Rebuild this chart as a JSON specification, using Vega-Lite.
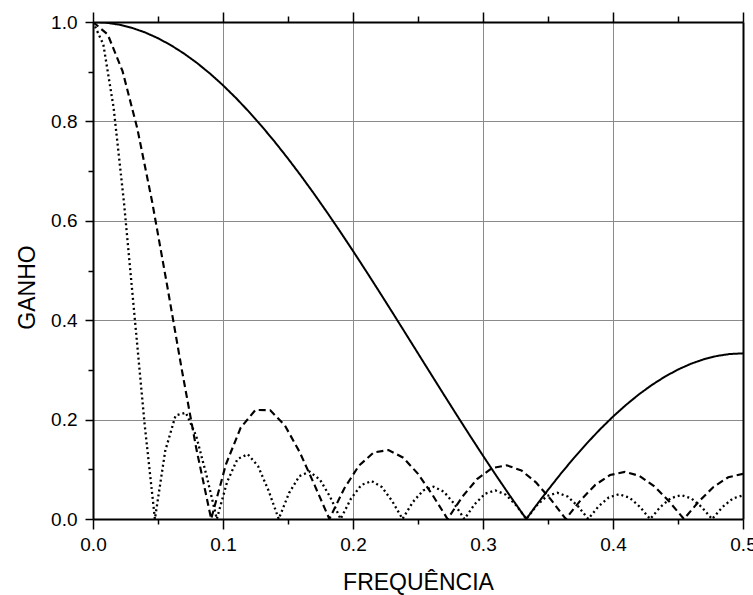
{
  "$schema": "https://vega.github.io/schema/vega-lite/v6.json",
  "width": 650,
  "height": 497,
  "autosize": "none",
  "padding": {"left": 93, "top": 22, "right": 10, "bottom": 76},
  "background": "white",
  "config": {
    "view": {"stroke": null},
    "font": "Liberation Sans",
    "axis": {
      "labelFont": "Liberation Sans",
      "titleFont": "Liberation Sans",
      "labelColor": "black",
      "titleColor": "black",
      "tickColor": "black",
      "domainColor": "black",
      "labelFontSize": 19,
      "titleFontSize": 23,
      "titleFontWeight": "normal",
      "gridColor": "#8a8a8a",
      "gridWidth": 1,
      "gridOpacity": 1,
      "tickWidth": 1.5,
      "domainWidth": 2,
      "labelFlush": false,
      "labelOverlap": false
    }
  },
  "datasets": {
    "gain": [
      {"f": 0, "g": 1, "s": "a"}, {"f": 0.01, "g": 0.99869, "s": "a"}, {"f": 0.02, "g": 0.99474, "s": "a"}, {"f": 0.03, "g": 0.98819, "s": "a"}, {"f": 0.04, "g": 0.97905, "s": "a"}, {"f": 0.05, "g": 0.96737, "s": "a"}, {"f": 0.06, "g": 0.95318, "s": "a"}, {"f": 0.07, "g": 0.93655, "s": "a"}, {"f": 0.08, "g": 0.91754, "s": "a"}, {"f": 0.09, "g": 0.89622, "s": "a"}, {"f": 0.1, "g": 0.87268, "s": "a"}, {"f": 0.11, "g": 0.84701, "s": "a"}, {"f": 0.12, "g": 0.81931, "s": "a"}, {"f": 0.13, "g": 0.7897, "s": "a"}, {"f": 0.14, "g": 0.75828, "s": "a"}, {"f": 0.15, "g": 0.72519, "s": "a"}, {"f": 0.16, "g": 0.69055, "s": "a"}, {"f": 0.17, "g": 0.6545, "s": "a"}, {"f": 0.18, "g": 0.61719, "s": "a"}, {"f": 0.19, "g": 0.57875, "s": "a"}, {"f": 0.2, "g": 0.53935, "s": "a"}, {"f": 0.21, "g": 0.49913, "s": "a"}, {"f": 0.22, "g": 0.45825, "s": "a"}, {"f": 0.23, "g": 0.41689, "s": "a"}, {"f": 0.24, "g": 0.37519, "s": "a"}, {"f": 0.25, "g": 0.33333, "s": "a"}, {"f": 0.26, "g": 0.29147, "s": "a"}, {"f": 0.27, "g": 0.24978, "s": "a"}, {"f": 0.28, "g": 0.20841, "s": "a"}, {"f": 0.29, "g": 0.16754, "s": "a"}, {"f": 0.3, "g": 0.12732, "s": "a"}, {"f": 0.31, "g": 0.08792, "s": "a"}, {"f": 0.32, "g": 0.04948, "s": "a"}, {"f": 0.33, "g": 0.01216, "s": "a"}, {"f": 0.33333, "g": 0, "s": "a"}, {"f": 0.34, "g": 0.02389, "s": "a"}, {"f": 0.35, "g": 0.05853, "s": "a"}, {"f": 0.36, "g": 0.09162, "s": "a"}, {"f": 0.37, "g": 0.12304, "s": "a"}, {"f": 0.38, "g": 0.15265, "s": "a"}, {"f": 0.39, "g": 0.18034, "s": "a"}, {"f": 0.4, "g": 0.20601, "s": "a"}, {"f": 0.41, "g": 0.22955, "s": "a"}, {"f": 0.42, "g": 0.25088, "s": "a"}, {"f": 0.43, "g": 0.26989, "s": "a"}, {"f": 0.44, "g": 0.28652, "s": "a"}, {"f": 0.45, "g": 0.30071, "s": "a"}, {"f": 0.46, "g": 0.31239, "s": "a"}, {"f": 0.47, "g": 0.32153, "s": "a"}, {"f": 0.48, "g": 0.32808, "s": "a"}, {"f": 0.49, "g": 0.33202, "s": "a"}, {"f": 0.5, "g": 0.33333, "s": "a"},
      {"f": 0, "g": 1, "s": "b"}, {"f": 0.01136, "g": 0.97471, "s": "b"}, {"f": 0.02273, "g": 0.90108, "s": "b"}, {"f": 0.03409, "g": 0.78571, "s": "b"}, {"f": 0.04545, "g": 0.63879, "s": "b"}, {"f": 0.05682, "g": 0.47303, "s": "b"}, {"f": 0.06818, "g": 0.30241, "s": "b"}, {"f": 0.07955, "g": 0.14067, "s": "b"}, {"f": 0.09091, "g": 0, "s": "b"}, {"f": 0.10227, "g": 0.11016, "s": "b"}, {"f": 0.11364, "g": 0.18395, "s": "b"}, {"f": 0.125, "g": 0.21947, "s": "b"}, {"f": 0.13636, "g": 0.21884, "s": "b"}, {"f": 0.14773, "g": 0.18762, "s": "b"}, {"f": 0.15909, "g": 0.13413, "s": "b"}, {"f": 0.17045, "g": 0.06817, "s": "b"}, {"f": 0.18182, "g": 0, "s": "b"}, {"f": 0.19318, "g": 0.061, "s": "b"}, {"f": 0.20455, "g": 0.10727, "s": "b"}, {"f": 0.21591, "g": 0.13386, "s": "b"}, {"f": 0.22727, "g": 0.13882, "s": "b"}, {"f": 0.23864, "g": 0.12326, "s": "b"}, {"f": 0.25, "g": 0.09091, "s": "b"}, {"f": 0.26136, "g": 0.04754, "s": "b"}, {"f": 0.27273, "g": 0, "s": "b"}, {"f": 0.28409, "g": 0.04468, "s": "b"}, {"f": 0.29545, "g": 0.0803, "s": "b"}, {"f": 0.30682, "g": 0.10224, "s": "b"}, {"f": 0.31818, "g": 0.10806, "s": "b"}, {"f": 0.32955, "g": 0.09766, "s": "b"}, {"f": 0.34091, "g": 0.07324, "s": "b"}, {"f": 0.35227, "g": 0.03891, "s": "b"}, {"f": 0.36364, "g": 0, "s": "b"}, {"f": 0.375, "g": 0.03766, "s": "b"}, {"f": 0.38636, "g": 0.06861, "s": "b"}, {"f": 0.39773, "g": 0.08852, "s": "b"}, {"f": 0.40909, "g": 0.09475, "s": "b"}, {"f": 0.42045, "g": 0.08668, "s": "b"}, {"f": 0.43182, "g": 0.06579, "s": "b"}, {"f": 0.44318, "g": 0.03535, "s": "b"}, {"f": 0.45455, "g": 0, "s": "b"}, {"f": 0.46591, "g": 0.03499, "s": "b"}, {"f": 0.47727, "g": 0.06445, "s": "b"}, {"f": 0.48864, "g": 0.08404, "s": "b"}, {"f": 0.5, "g": 0.09091, "s": "b"},
      {"f": 0, "g": 1, "s": "c"}, {"f": 0.00794, "g": 0.95502, "s": "c"}, {"f": 0.01587, "g": 0.82734, "s": "c"}, {"f": 0.02381, "g": 0.63721, "s": "c"}, {"f": 0.03175, "g": 0.41418, "s": "c"}, {"f": 0.03968, "g": 0.19148, "s": "c"}, {"f": 0.04762, "g": 0, "s": "c"}, {"f": 0.05556, "g": 0.13711, "s": "c"}, {"f": 0.06349, "g": 0.20813, "s": "c"}, {"f": 0.07143, "g": 0.214, "s": "c"}, {"f": 0.07937, "g": 0.16713, "s": "c"}, {"f": 0.0873, "g": 0.08791, "s": "c"}, {"f": 0.09524, "g": 0, "s": "c"}, {"f": 0.10317, "g": 0.07476, "s": "c"}, {"f": 0.11111, "g": 0.12058, "s": "c"}, {"f": 0.11905, "g": 0.13034, "s": "c"}, {"f": 0.12698, "g": 0.10617, "s": "c"}, {"f": 0.13492, "g": 0.05789, "s": "c"}, {"f": 0.14286, "g": 0, "s": "c"}, {"f": 0.15079, "g": 0.05219, "s": "c"}, {"f": 0.15873, "g": 0.08623, "s": "c"}, {"f": 0.16667, "g": 0.09524, "s": "c"}, {"f": 0.1746, "g": 0.07909, "s": "c"}, {"f": 0.18254, "g": 0.04388, "s": "c"}, {"f": 0.19048, "g": 0, "s": "c"}, {"f": 0.19841, "g": 0.04079, "s": "c"}, {"f": 0.20635, "g": 0.0683, "s": "c"}, {"f": 0.21429, "g": 0.07637, "s": "c"}, {"f": 0.22222, "g": 0.06416, "s": "c"}, {"f": 0.23016, "g": 0.03598, "s": "c"}, {"f": 0.2381, "g": 0, "s": "c"}, {"f": 0.24603, "g": 0.0341, "s": "c"}, {"f": 0.25397, "g": 0.05761, "s": "c"}, {"f": 0.2619, "g": 0.06496, "s": "c"}, {"f": 0.26984, "g": 0.055, "s": "c"}, {"f": 0.27778, "g": 0.03108, "s": "c"}, {"f": 0.28571, "g": 0, "s": "c"}, {"f": 0.29365, "g": 0.02987, "s": "c"}, {"f": 0.30159, "g": 0.05079, "s": "c"}, {"f": 0.30952, "g": 0.05763, "s": "c"}, {"f": 0.31746, "g": 0.04909, "s": "c"}, {"f": 0.3254, "g": 0.0279, "s": "c"}, {"f": 0.33333, "g": 0, "s": "c"}, {"f": 0.34127, "g": 0.02711, "s": "c"}, {"f": 0.34921, "g": 0.04634, "s": "c"}, {"f": 0.35714, "g": 0.05285, "s": "c"}, {"f": 0.36508, "g": 0.04524, "s": "c"}, {"f": 0.37302, "g": 0.02584, "s": "c"}, {"f": 0.38095, "g": 0, "s": "c"}, {"f": 0.38889, "g": 0.02534, "s": "c"}, {"f": 0.39683, "g": 0.04351, "s": "c"}, {"f": 0.40476, "g": 0.04983, "s": "c"}, {"f": 0.4127, "g": 0.04284, "s": "c"}, {"f": 0.42063, "g": 0.02457, "s": "c"}, {"f": 0.42857, "g": 0, "s": "c"}, {"f": 0.4365, "g": 0.02429, "s": "c"}, {"f": 0.44444, "g": 0.04188, "s": "c"}, {"f": 0.45238, "g": 0.04816, "s": "c"}, {"f": 0.46032, "g": 0.04156, "s": "c"}, {"f": 0.46825, "g": 0.02393, "s": "c"}, {"f": 0.47619, "g": 0, "s": "c"}, {"f": 0.48413, "g": 0.02384, "s": "c"}, {"f": 0.49206, "g": 0.04125, "s": "c"}, {"f": 0.5, "g": 0.04762, "s": "c"}
    ]
  },
  "data": {"name": "gain"},
  "layer": [
    {
      "mark": {"type": "line", "color": "black", "clip": true},
      "encoding": {
        "x": {"field": "f", "type": "quantitative", "scale": {"domain": [0, 0.5], "nice": false},
          "axis": {"orient": "bottom", "values": [0, 0.1, 0.2, 0.3, 0.4, 0.5], "format": ".1f", "tickSize": 10, "labelPadding": 6, "grid": true, "domain": true,
            "title": "FREQUÊNCIA", "titleY": 70, "titleBaseline": "alphabetic", "titleAnchor": "middle"}},
        "y": {"field": "g", "type": "quantitative", "scale": {"domain": [0, 1], "nice": false},
          "axis": {"orient": "left", "values": [0, 0.2, 0.4, 0.6, 0.8, 1.0], "format": ".1f", "tickSize": 8, "labelPadding": 8, "grid": true, "domain": true,
            "title": "GANHO", "titleX": -59, "titleY": 265, "titleAngle": -90, "titleBaseline": "alphabetic", "titleAlign": "center"}},
        "strokeDash": {"field": "s", "type": "nominal", "scale": {"domain": ["a", "b", "c"], "range": [[1, 0], [7, 4], [2, 3]]}, "legend": null},
        "strokeWidth": {"field": "s", "type": "nominal", "scale": {"domain": ["a", "b", "c"], "range": [2, 2.3, 2.5]}, "legend": null}
      }
    },
    {
      "mark": {"type": "line", "strokeOpacity": 0},
      "encoding": {
        "x": {"field": "f", "type": "quantitative", "axis": {"orient": "bottom", "values": [0.05, 0.15, 0.25, 0.35, 0.45], "labels": false, "tickSize": 5, "domain": false, "grid": false, "title": null}},
        "y": {"field": "g", "type": "quantitative", "axis": {"orient": "left", "values": [0.1, 0.3, 0.5, 0.7, 0.9], "labels": false, "tickSize": 5, "domain": false, "grid": false, "title": null}},
        "detail": {"field": "s"}
      }
    },
    {
      "mark": {"type": "line", "strokeOpacity": 0},
      "encoding": {
        "x": {"field": "f", "type": "quantitative", "axis": {"orient": "top", "values": [0, 0.1, 0.2, 0.3, 0.4, 0.5], "labels": false, "tickSize": 10, "domain": true, "grid": false, "title": null}},
        "y": {"field": "g", "type": "quantitative", "axis": {"orient": "right", "ticks": false, "labels": false, "domain": true, "grid": false, "title": null}},
        "detail": {"field": "s"}
      }
    },
    {
      "mark": {"type": "line", "strokeOpacity": 0},
      "encoding": {
        "x": {"field": "f", "type": "quantitative", "axis": {"orient": "top", "values": [0.05, 0.15, 0.25, 0.35, 0.45], "labels": false, "tickSize": 6, "domain": false, "grid": false, "title": null}},
        "detail": {"field": "s"}
      }
    }
  ],
  "resolve": {"axis": {"x": "independent", "y": "independent"}}
}
